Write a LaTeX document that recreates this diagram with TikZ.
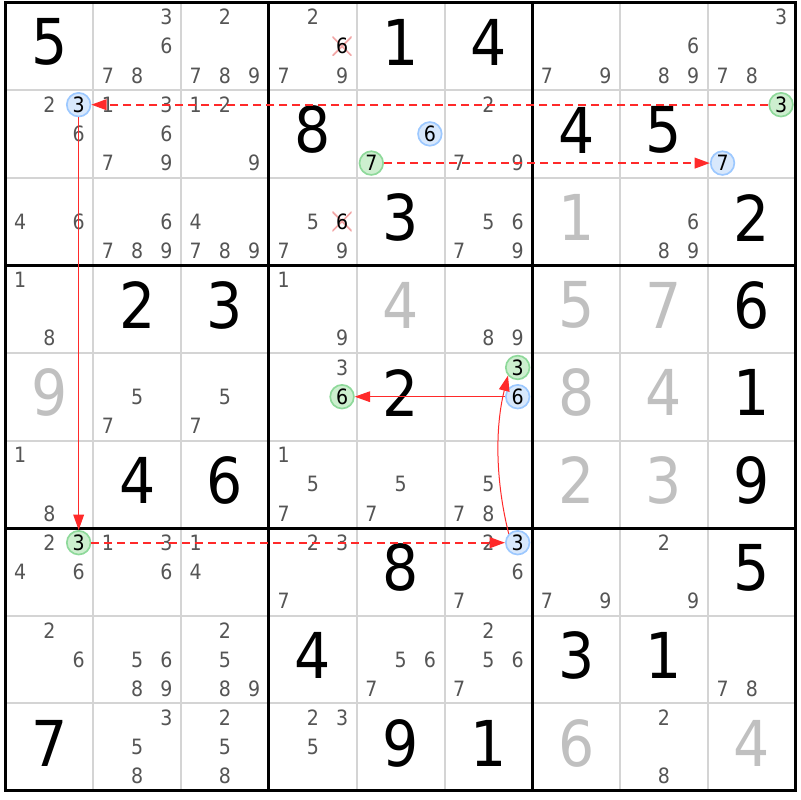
\documentclass[tikz,border=0pt]{standalone}
\usepackage{fontspec}
\setmainfont{DejaVu Sans Condensed}
\usetikzlibrary{arrows.meta}

\definecolor{candgray}{HTML}{555555}
\definecolor{solvedgray}{HTML}{C0C0C0}
\definecolor{gridgray}{HTML}{D4D4D4}
\definecolor{linkred}{HTML}{FF2A2A}
\definecolor{bluefill}{HTML}{D8E8FC}
\definecolor{bluering}{HTML}{9CC8FF}
\definecolor{greenfill}{HTML}{CDEFCF}
\definecolor{greenring}{HTML}{8ED99A}
\definecolor{crosspink}{HTML}{F2A6A6}

% one candidate digit at its place in cell (row, col)
\newcommand{\cand}[4][cand]{%
  \pgfmathtruncatemacro\cx{mod(#4-1,3)}%
  \pgfmathtruncatemacro\cy{int((#4-1)/3)}%
  \node[#1] (r#2c#3d#4) at ({#3+(\cx+0.5)/3},{#2+(\cy+0.5)/3}) {#4};}
\newcommand{\cands}[3]{\foreach \d in {#3} {\cand{#1}{#2}{\d}}}

\begin{document}
\begin{tikzpicture}[x=26.34mm, y=-26.28mm,
    cand/.style={inner sep=0pt, text=candgray, font=\fontsize{18}{20}\selectfont},
    given/.style={inner sep=0pt, text=black, font=\fontsize{54}{58}\selectfont},
    solved/.style={given, text=solvedgray},
    bluecand/.style={cand, text=black, circle, draw=bluering, fill=bluefill, line width=0.5mm, minimum size=7.1mm},
    greencand/.style={cand, text=black, circle, draw=greenring, fill=greenfill, line width=0.5mm, minimum size=7.1mm},
    crossed/.style={cand, text=black, minimum size=5.8mm,
        path picture={\draw[crosspink, line width=0.5mm]
            (path picture bounding box.south west) -- (path picture bounding box.north east)
            (path picture bounding box.north west) -- (path picture bounding box.south east);}},
    weaklink/.style={linkred, line width=0.6mm, dash pattern=on 2.4mm off 1.5mm, -{Triangle[length=4.6mm,width=3.2mm]}},
    stronglink/.style={linkred, line width=0.3mm, -{Triangle[length=4.6mm,width=3.2mm]}}]

    % Page and margins
    \fill[white] (-0.0626,-0.0285) rectangle (9.0490,9.1039);
    \useasboundingbox (-0.0626,-0.0285) rectangle (9.0490,9.1039);

    % Grid lines
    \foreach \i in {1,2,4,5,7,8} {
        \draw[gridgray, line width=0.6mm] (\i,0) -- (\i,9);
        \draw[gridgray, line width=0.6mm] (0,\i) -- (9,\i);
    }
    \foreach \i in {3,6} {
        \draw[black, line width=0.85mm] (\i,0) -- (\i,9);
        \draw[black, line width=0.85mm] (0,\i) -- (9,\i);
    }
    \draw[black, line width=0.95mm] (0,0) rectangle (9,9);

    % Given digits
    \foreach \r/\c/\v in {0/0/5, 0/4/1, 0/5/4, 1/3/8, 1/6/4, 1/7/5, 2/4/3, 2/8/2,
        3/1/2, 3/2/3, 3/8/6, 4/4/2, 4/8/1, 5/1/4, 5/2/6, 5/8/9, 6/4/8, 6/8/5,
        7/3/4, 7/6/3, 7/7/1, 8/0/7, 8/4/9, 8/5/1}
        \node[given] (g\r\c) at (\c+0.5,\r+0.455) {\v};

    % Solved digits
    \foreach \r/\c/\v in {2/6/1, 3/4/4, 3/6/5, 3/7/7, 4/0/9, 4/6/8, 4/7/4,
        5/6/2, 5/7/3, 8/6/6, 8/8/4}
        \node[solved] (g\r\c) at (\c+0.5,\r+0.455) {\v};

    % Candidates
    \cands{0}{1}{3,6,7,8} \cands{0}{2}{2,7,8,9} \cands{0}{3}{2,7,9}
    \cands{0}{6}{7,9} \cands{0}{7}{6,8,9} \cands{0}{8}{3,7,8}
    \cands{1}{0}{2,6} \cands{1}{1}{1,3,6,7,9} \cands{1}{2}{1,2,9} \cands{1}{5}{2,7,9}
    \cands{2}{0}{4,6} \cands{2}{1}{6,7,8,9} \cands{2}{2}{4,7,8,9} \cands{2}{3}{5,7,9}
    \cands{2}{5}{5,6,7,9} \cands{2}{7}{6,8,9}
    \cands{3}{0}{1,8} \cands{3}{3}{1,9} \cands{3}{5}{8,9}
    \cands{4}{1}{5,7} \cands{4}{2}{5,7} \cands{4}{3}{3}
    \cands{5}{0}{1,8} \cands{5}{3}{1,5,7} \cands{5}{4}{5,7} \cands{5}{5}{5,7,8}
    \cands{6}{0}{2,4,6} \cands{6}{1}{1,3,6} \cands{6}{2}{1,4} \cands{6}{3}{2,3,7}
    \cands{6}{5}{2,6,7} \cands{6}{6}{7,9} \cands{6}{7}{2,9}
    \cands{7}{0}{2,6} \cands{7}{1}{5,6,8,9} \cands{7}{2}{2,5,8,9} \cands{7}{4}{5,6,7}
    \cands{7}{5}{2,5,6,7} \cands{7}{8}{7,8}
    \cands{8}{1}{3,5,8} \cands{8}{2}{2,5,8} \cands{8}{3}{2,3,5} \cands{8}{7}{2,8}

    % Eliminated candidates
    \cand[crossed]{0}{3}{6}
    \cand[crossed]{2}{3}{6}

    % Chain candidates
    \cand[bluecand]{1}{0}{3}
    \cand[greencand]{1}{8}{3}
    \cand[greencand]{1}{4}{7}
    \cand[bluecand]{1}{8}{7}
    \cand[greencand]{6}{0}{3}
    \cand[bluecand]{6}{5}{3}
    \cand[greencand]{4}{5}{3}
    \cand[bluecand]{4}{5}{6}
    \cand[bluecand]{1}{4}{6}
    \cand[greencand]{4}{3}{6}

    % Links
    \draw[weaklink] (r1c8d3) -- (r1c0d3);
    \draw[weaklink] (r1c4d7) -- (r1c8d7);
    \draw[stronglink] (r1c0d3) -- (r6c0d3);
    \draw[weaklink] (r6c0d3) -- (r6c5d3);
    \draw[stronglink] (r6c5d3.135) .. controls +(-0.15,-0.6) and +(-0.15,0.6) .. (r4c5d3.220);
    \draw[stronglink] (r4c5d6) -- (r4c3d6);
\end{tikzpicture}
\end{document}
